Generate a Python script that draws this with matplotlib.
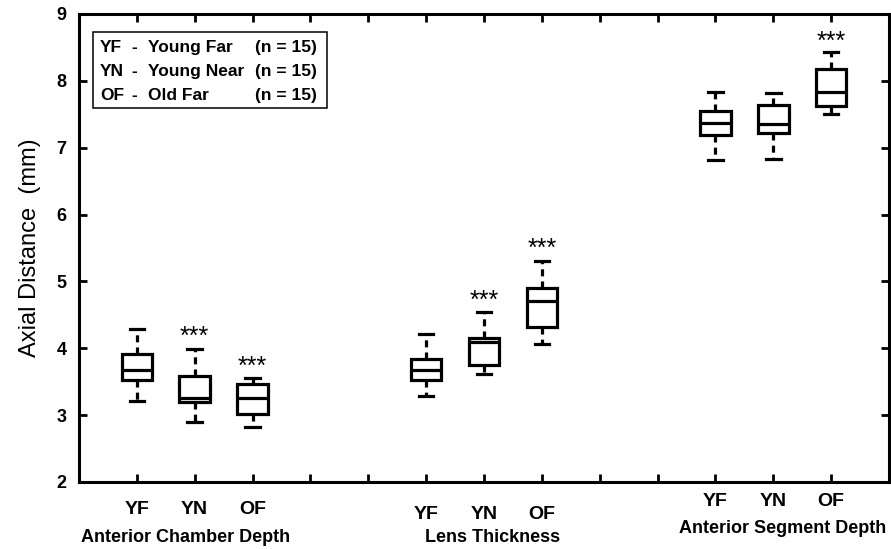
import matplotlib
matplotlib.use("Agg")
import matplotlib.pyplot as plt
from matplotlib.patches import Rectangle

plt.rcParams['font.family'] = ['Liberation Sans', 'DejaVu Sans']

# data
groups = ["Anterior Chamber Depth", "Lens Thickness", "Anterior Segment Depth"]
codes = ["YF", "YN", "OF"]
whislo = [3.21, 2.90, 2.83, 3.29, 3.61, 4.06, 6.81, 6.83, 7.50]
q1 = [3.53, 3.20, 3.01, 3.53, 3.75, 4.32, 7.19, 7.22, 7.63]
med = [3.675, 3.25, 3.25, 3.675, 4.10, 4.71, 7.37, 7.36, 7.83]
q3 = [3.91, 3.58, 3.47, 3.84, 4.15, 4.90, 7.55, 7.64, 8.17]
whishi = [4.29, 3.99, 3.55, 4.21, 4.55, 5.31, 7.83, 7.82, 8.43]
# significance marks (*** above box), None = no mark
star_y = [None, 4.27, 3.83, None, 4.81, 5.59, None, None, 8.69]
legend_rows = [("YF", "Young Far", "(n = 15)"),
               ("YN", "Young Near", "(n = 15)"),
               ("OF", "Old Far", "(n = 15)")]

positions = [1 + 5 * g + i for g in range(3) for i in range(3)]
stats = [dict(whislo=a, q1=b, med=c, q3=d, whishi=e)
         for a, b, c, d, e in zip(whislo, q1, med, q3, whishi)]

fig = plt.figure(figsize=(8.91, 5.49), dpi=100)
ax = fig.add_axes([79 / 891, 1 - 482 / 549, 810 / 891, 468 / 549])

lw = 2.3
ax.bxp(stats, positions=positions, widths=0.53, capwidths=0.25,
       showfliers=False, patch_artist=True,
       boxprops=dict(facecolor='white', edgecolor='black', linewidth=lw),
       medianprops=dict(color='black', linewidth=lw),
       whiskerprops=dict(color='black', linewidth=lw, linestyle=(0, (2.2, 1.6))),
       capprops=dict(color='black', linewidth=lw))

for x, y in zip(positions, star_y):
    if y is not None:
        ax.annotate("***", (x, y), xytext=(0, -10), textcoords='offset points',
                    ha='center', va='baseline', fontsize=18)

ax.set_xlim(0, 14)
ax.set_ylim(2, 9)
ax.set_yticks(range(2, 10))
ax.set_xticks(range(1, 14))
ax.set_xticklabels([codes[(p - 1) % 5] if (p - 1) % 5 < 3 else "" for p in range(1, 14)],
                   fontsize=14, fontweight='bold')
for t in ax.get_yticklabels():
    t.set_fontsize(13)
    t.set_fontweight('bold')

ax.tick_params(direction='in', length=6, width=2, top=True, right=True)
ax.tick_params(axis='y', pad=9)
group_pad = [14, 17, 8]
for p, tick in zip(range(1, 14), ax.xaxis.get_major_ticks()):
    tick.set_pad(group_pad[min((p - 1) // 5, 2)])
for s in ax.spines.values():
    s.set_linewidth(2.2)

# group names under the tick labels
group_x = [1.85, 7.15, 12.17]
group_base = [542, 542, 533]
for name, gx, gb in zip(groups, group_x, group_base):
    ax.text(gx, -(gb - 482) / 468, name, transform=ax.get_xaxis_transform(),
            ha='center', va='baseline', fontsize=13, fontweight='bold')

ax.set_ylabel("Axial Distance  (mm)", fontsize=17, va='center')
ax.yaxis.set_label_coords(-0.06, 0.5)

# legend box
ax.add_patch(Rectangle((0.0173, 0.80), 0.289, 0.161, transform=ax.transAxes,
                       facecolor='white', edgecolor='black', linewidth=1.1, zorder=5))
row_base = [(482 - 52) / 468, (482 - 76) / 468, (482 - 100) / 468]
for (c, n, cnt), yb in zip(legend_rows, row_base):
    for xx, s in zip([0.026, 0.065, 0.085, 0.217], [c, "-", n, cnt]):
        ax.text(xx, yb, s, transform=ax.transAxes, fontsize=12.5, fontweight='bold',
                va='baseline', ha='left', zorder=6)

fig.savefig("out.png", dpi=100)
